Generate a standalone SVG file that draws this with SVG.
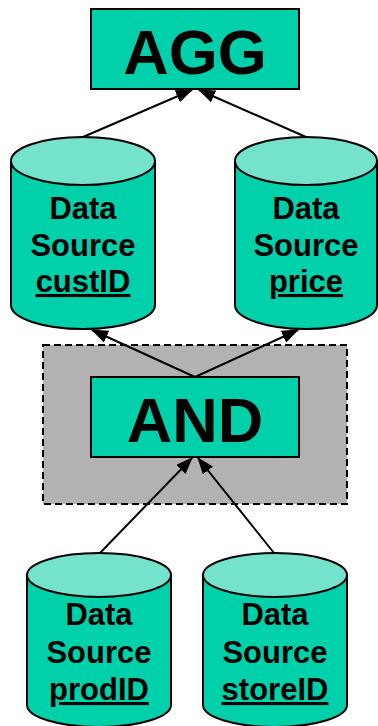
<svg xmlns="http://www.w3.org/2000/svg" width="378" height="726" viewBox="0 0 378 726">
  <style>
    .box { fill: #00D1AA; stroke: #000; stroke-width: 2; }
    .body { fill: #00D1AA; stroke: #000; stroke-width: 2; }
    .lid { fill: #75E3CC; stroke: #000; stroke-width: 2; }
    .op { font-family: "Liberation Sans", Arial, sans-serif; font-weight: bold; font-size: 63px; text-anchor: middle; fill: #000; }
    .lbl { font-family: "Liberation Sans", Arial, sans-serif; font-weight: bold; font-size: 31px; text-anchor: middle; fill: #000; }
    .u { text-decoration: underline; }
    .edge { stroke: #000; stroke-width: 2; fill: none; marker-end: url(#head); }
  </style>
  <defs>
    <marker id="head" markerUnits="userSpaceOnUse" markerWidth="17" markerHeight="13" refX="16" refY="6.5" orient="auto">
      <path d="M0,0 L17,6.5 L0,13 Z" fill="#000"/>
    </marker>
  </defs>

  <!-- dashed grouping region around AND -->
  <g id="group-and">
    <rect x="43" y="345" width="304" height="159" fill="#B2B2B2" stroke="#000" stroke-width="2" stroke-dasharray="7,4"/>
  </g>

  <!-- connectors -->
  <g id="connectors">
    <line class="edge" x1="83" y1="137" x2="192" y2="90"/>
    <line class="edge" x1="306" y1="137" x2="199" y2="90"/>
    <line class="edge" x1="195" y1="377" x2="92" y2="330"/>
    <line class="edge" x1="195" y1="377" x2="298" y2="330"/>
    <line class="edge" x1="100" y1="553" x2="192" y2="458"/>
    <line class="edge" x1="274" y1="553" x2="198" y2="458"/>
  </g>

  <g id="agg">
    <rect class="box" x="91" y="9" width="208" height="80"/>
    <text class="op" x="195" y="74">AGG</text>
  </g>

  <g id="and">
    <rect class="box" x="91" y="377" width="208" height="80"/>
    <text class="op" x="195" y="442">AND</text>
  </g>

  <g id="src-custID">
    <path class="body" d="M11,161 L11,305 A72,24 0 0 0 155,305 L155,161 Z"/>
    <ellipse class="lid" cx="83" cy="161" rx="72" ry="24"/>
    <text class="lbl" x="83" y="219">Data</text>
    <text class="lbl" x="83" y="256">Source</text>
    <text class="lbl u" x="83" y="292">custID</text>
  </g>

  <g id="src-price">
    <path class="body" d="M235,161 L235,305 A71,24 0 0 0 377,305 L377,161 Z"/>
    <ellipse class="lid" cx="306" cy="161" rx="71" ry="24"/>
    <text class="lbl" x="306" y="219">Data</text>
    <text class="lbl" x="306" y="256">Source</text>
    <text class="lbl u" x="306" y="292">price</text>
  </g>

  <g id="src-prodID">
    <path class="body" d="M27,575 L27,705 A72,22 0 0 0 171,705 L171,575 Z"/>
    <ellipse class="lid" cx="99" cy="575" rx="72" ry="22"/>
    <text class="lbl" x="99" y="625">Data</text>
    <text class="lbl" x="99" y="663">Source</text>
    <text class="lbl u" x="99" y="700">prodID</text>
  </g>

  <g id="src-storeID">
    <path class="body" d="M203,575 L203,705 A72,22 0 0 0 347,705 L347,575 Z"/>
    <ellipse class="lid" cx="275" cy="575" rx="72" ry="22"/>
    <text class="lbl" x="275" y="625">Data</text>
    <text class="lbl" x="275" y="663">Source</text>
    <text class="lbl u" x="275" y="700">storeID</text>
  </g>
</svg>
